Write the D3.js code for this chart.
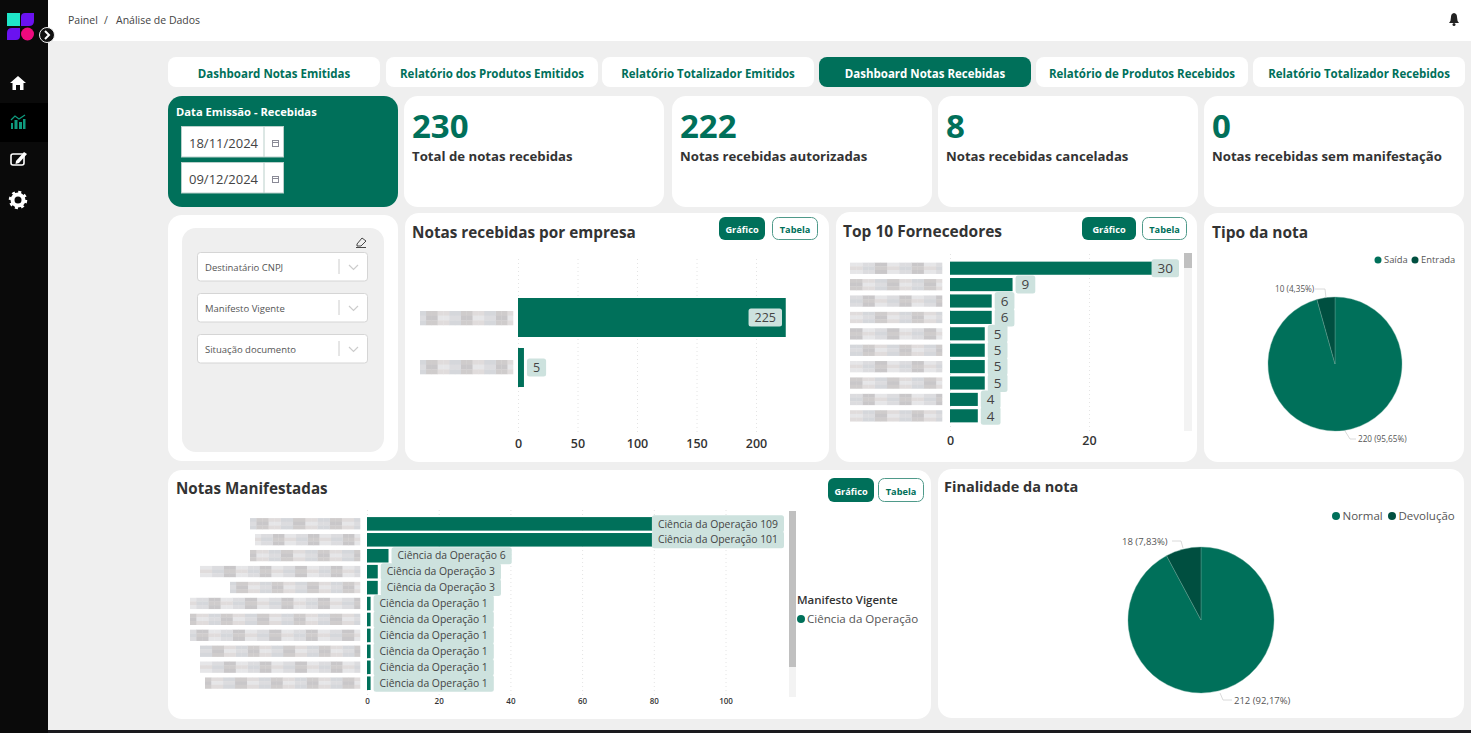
<!DOCTYPE html>
<html lang="pt-BR">
<head>
  <meta charset="UTF-8">
  <title>Análise de Dados</title>
  <script src="https://d3js.org/d3.v7.min.js"></script>
  <style>
    html, body { margin: 0; padding: 0; background: #efefef; overflow: hidden; }
    svg { display: block; }
    text { font-family: "Open Sans", sans-serif; }
    .tick text { font-family: "Open Sans", sans-serif; }
    .domain { display: none; }
  </style>
</head>
<body>
  <svg id="page" width="1471" height="733">
    <defs><filter id="soft" x="-5%" y="-20%" width="110%" height="140%"><feGaussianBlur stdDeviation="0.7"></feGaussianBlur></filter></defs>
  </svg>
  <script>
    // Data
    const tabLabels = ['Dashboard Notas Emitidas', 'Relatório dos Produtos Emitidos', 'Relatório Totalizador Emitidos',
      'Dashboard Notas Recebidas', 'Relatório de Produtos Recebidos', 'Relatório Totalizador Recebidos']
    const activeTab = 3

    const kpiValues = [230, 222, 8, 0]
    const kpiLabels = ['Total de notas recebidas', 'Notas recebidas autorizadas', 'Notas recebidas canceladas', 'Notas recebidas sem manifestação']

    const dateLabels = ['18/11/2024', '09/12/2024']
    const filterLabels = ['Destinatário CNPJ', 'Manifesto Vigente', 'Situação documento']

    const empresaValues = [225, 5]
    const empresaTicks = [0, 50, 100, 150, 200]

    const fornecedorValues = [30, 9, 6, 6, 5, 5, 5, 5, 4, 4]
    const fornecedorTicks = [0, 20]

    const manifestadasValues = [109, 101, 6, 3, 3, 1, 1, 1, 1, 1, 1]
    const manifestadasTicks = [0, 20, 40, 60, 80, 100]
    const manifestoLabel = 'Ciência da Operação'
    // width of the pixelated (hidden) company names
    const manifestadasNameWidths = [110, 105, 110, 160, 130, 170, 170, 170, 160, 160, 155]

    const tipoLabels = ['Saída', 'Entrada']
    const tipoValues = [220, 10]
    const tipoTexts = ['220 (95,65%)', '10 (4,35%)']

    const finalidadeLabels = ['Normal', 'Devolução']
    const finalidadeValues = [212, 18]
    const finalidadeTexts = ['212 (92,17%)', '18 (7,83%)']

    // Colors
    const green = '#00705a'
    const darkGreen = '#004f40'
    const badge = '#cde2de'
    const ink = '#333333'
    const blurTones = ['#dcdcdf', '#cfcccc', '#e6e6e8', '#d5d7db', '#c9c7c9', '#e0dcdc']

    const svg = d3.select('#page')

    function card(x, y, w, h, fill = '#fff', r = 14) {
      return svg.append('rect').attr('x', x).attr('y', y).attr('width', w).attr('height', h)
        .attr('rx', r).attr('fill', fill)
    }

    function label(parent, x, y, str, size, color = ink, weight = 400, anchor = 'start') {
      return parent.append('text').attr('x', x).attr('y', y).text(str)
        .attr('font-size', size).attr('fill', color).attr('font-weight', weight).attr('text-anchor', anchor)
    }

    // The names are pixelated in the screenshot, so they stay a mosaic of grey cells
    function mosaic(x, y, w, h, seed) {
      const cols = Math.round(w / 6), cellW = w / cols, cellH = h / 3
      const g = svg.append('g').attr('filter', 'url(#soft)')
      d3.range(3).forEach(row => {
        d3.range(cols).forEach(col => {
          g.append('rect').attr('x', x + w - (col + 1) * cellW).attr('y', y + row * cellH)
            .attr('width', cellW + .3).attr('height', cellH + .3)
            .attr('fill', blurTones[(col * 7 + row * 3 + seed * 5 + (col * col) % 4) % blurTones.length])
        })
      })
    }

    function toggle(xGraph, wGraph, xTable, wTable, y, h, size = 9.2) {
      svg.append('rect').attr('x', xGraph).attr('y', y).attr('width', wGraph).attr('height', h).attr('rx', 6).attr('fill', green)
      label(svg, xGraph + wGraph / 2, y + h / 2 + 4.5, 'Gráfico', size, '#fff', 700, 'middle')
      svg.append('rect').attr('x', xTable + .5).attr('y', y + .5).attr('width', wTable - 1).attr('height', h - 1).attr('rx', 6)
        .attr('fill', '#fff').attr('stroke', '#4f9a8a')
      label(svg, xTable + wTable / 2, y + h / 2 + 4.5, 'Tabela', size, green, 700, 'middle')
    }

    function scrollbar(x, w, y0, y1, thumbEnd) {
      svg.append('rect').attr('x', x).attr('y', y0).attr('width', w).attr('height', y1 - y0).attr('fill', '#f3f3f3')
      svg.append('rect').attr('x', x).attr('y', y0).attr('width', w).attr('height', thumbEnd - y0).attr('fill', '#c0c0c0')
    }

    // Horizontal bars with value badges
    function barChart(o) {
      const x = d3.scaleLinear().domain([0, o.tickStep]).range([o.x0, o.xStep])
      const y = d3.scaleBand().domain(d3.range(o.values.length)).range([o.yTop, o.yBottom])
        .paddingInner(o.padding).paddingOuter(o.padding / 2)

      const grid = svg.append('g').attr('transform', `translate(0,${o.gridBottom})`)
        .call(d3.axisBottom(x).tickValues(o.ticks).tickSize(o.gridTop - o.gridBottom).tickPadding(0).tickFormat(''))
      grid.selectAll('.tick line').attr('stroke', '#e4e4e4').attr('stroke-dasharray', '1 3')

      const axis = svg.append('g').attr('transform', `translate(0,${o.tickY})`)
        .call(d3.axisBottom(x).tickValues(o.ticks).tickSize(0).tickPadding(0))
      axis.selectAll('.tick text').attr('font-size', o.tickSize).attr('font-weight', 600).attr('fill', ink)

      svg.append('g').selectAll('rect').data(o.values).enter().append('rect')
        .attr('x', x(0)).attr('y', (d, i) => y(i))
        .attr('width', d => x(d) - x(0)).attr('height', y.bandwidth()).attr('fill', green)

      o.values.forEach((d, i) => {
        const g = svg.append('g')
        const t = label(g, 0, y(i) + y.bandwidth() / 2 + o.badgeSize * .35, o.badgeText(d), o.badgeSize, '#444', 400)
        const w = t.node().getComputedTextLength() + o.badgePad * 2
        const left = Math.min(x(d) + 3, o.badgeRight - w)
        t.attr('x', left + o.badgePad)
        g.insert('rect', 'text').attr('x', left).attr('y', y(i) + y.bandwidth() / 2 - o.badgeH / 2)
          .attr('width', w).attr('height', o.badgeH).attr('rx', 2.5).attr('fill', badge)
      })
      return y
    }

    // Pie with thin leader lines
    function pieChart(o) {
      const arcs = d3.pie().sort(null)(o.values)
      const arc = d3.arc().innerRadius(0).outerRadius(o.r)
      const g = svg.append('g').attr('transform', `translate(${o.cx},${o.cy})`)
      g.selectAll('path').data(arcs).enter().append('path')
        .attr('d', arc).attr('fill', (d, i) => [green, darkGreen][i])
        .attr('stroke', '#6da99b').attr('stroke-width', .4)
      o.leaders.forEach(l => {
        svg.append('path').attr('d', d3.line()(l)).attr('fill', 'none').attr('stroke', '#d0d0d0').attr('stroke-width', .8)
      })
      o.texts.forEach((t, i) => label(svg, o.textPos[i][0], o.textPos[i][1], t, o.textSize, '#555'))
      o.labels.forEach((t, i) => {
        svg.append('circle').attr('cx', o.legendX[i]).attr('cy', o.legendY).attr('r', o.legendR)
          .attr('fill', [green, darkGreen][i])
        label(svg, o.legendX[i] + o.legendR + 2.5, o.legendY + o.legendSize * .35, t, o.legendSize, '#555')
      })
    }

    // Page frame
    svg.append('rect').attr('width', 1471).attr('height', 733).attr('fill', '#efefef')
    svg.append('rect').attr('x', 48).attr('width', 1423).attr('height', 41).attr('fill', '#fff')
    svg.append('rect').attr('y', 730).attr('width', 1471).attr('height', 3).attr('fill', '#1a1a1e')
    svg.append('rect').attr('width', 48).attr('height', 733).attr('fill', '#0a0a0a')
    svg.append('rect').attr('y', 103).attr('width', 48).attr('height', 39).attr('fill', '#000')

    // Logo
    svg.append('rect').attr('x', 7).attr('y', 13).attr('width', 13).attr('height', 13).attr('fill', '#1fe5c8')
    svg.append('path').attr('d', 'M25 13H34V21Q34 26 29 26H21V17Q21 13 25 13Z').attr('fill', '#6a12f0')
    svg.append('path').attr('d', 'M12 28H20V36Q20 40 16 40H7V33Q7 28 12 28Z').attr('fill', '#6a12f0')
    svg.append('circle').attr('cx', 27.5).attr('cy', 34).attr('r', 6.5).attr('fill', '#ef0a7e')
    svg.append('circle').attr('cx', 47).attr('cy', 35).attr('r', 7.5).attr('fill', '#111').attr('stroke', '#eee').attr('stroke-width', 1)
    svg.append('path').attr('d', 'M45 31L49 35L45 39').attr('fill', 'none').attr('stroke', '#fff').attr('stroke-width', 2)

    // Sidebar icons
    svg.append('path').attr('d', 'M18 76L26 83H23.5V90H20V85H16V90H12.5V83H10Z').attr('fill', '#fff')
    svg.append('g').attr('fill', '#0f9a7e').selectAll('rect').data([[11, 123, 2, 6], [14.5, 120, 3, 9], [19, 122, 3, 7], [23, 119, 2.5, 10]])
      .enter().append('rect').attr('x', d => d[0]).attr('y', d => d[1]).attr('width', d => d[2]).attr('height', d => d[3])
    svg.append('path').attr('d', 'M11 120L15 116L19 119L25 115').attr('fill', 'none').attr('stroke', '#0f9a7e').attr('stroke-width', 1.3)
    svg.append('rect').attr('x', 11).attr('y', 154).attr('width', 13).attr('height', 11).attr('rx', 2).attr('fill', 'none').attr('stroke', '#fff').attr('stroke-width', 1.6)
    svg.append('path').attr('d', 'M16 161L24 152L27 154L19 163L15.5 164Z').attr('fill', '#fff')
    svg.append('circle').attr('cx', 18).attr('cy', 200).attr('r', 5.5).attr('fill', 'none').attr('stroke', '#fff').attr('stroke-width', 4)
    svg.append('circle').attr('cx', 18).attr('cy', 200).attr('r', 8).attr('fill', 'none').attr('stroke', '#fff').attr('stroke-width', 2.5).attr('stroke-dasharray', '3 3.28')

    // Header
    label(svg, 68, 24, 'Painel', 10.5, '#444')
    label(svg, 104, 24, '/', 10.5, '#444')
    label(svg, 116, 24, 'Análise de Dados', 10.5, '#444')
    svg.append('path').attr('d', 'M1449 23Q1451 21 1451 17Q1451 13.5 1454 13Q1457 13.5 1457 17Q1457 21 1459 23Z').attr('fill', '#222')
    svg.append('circle').attr('cx', 1454).attr('cy', 24.5).attr('r', 1.5).attr('fill', '#222')

    // Tabs
    const tabX = [168, 386, 602, 819, 1036, 1253]
    tabLabels.forEach((t, i) => {
      card(tabX[i], 57, 212, 30, i === activeTab ? green : '#fff', 8)
      label(svg, tabX[i] + 106, 78, t, 11.5, i === activeTab ? '#fff' : green, 700, 'middle')
    })

    // Date card
    card(168, 96, 230, 111, green)
    label(svg, 176, 116, 'Data Emissão - Recebidas', 11.2, '#fff', 700)
    dateLabels.forEach((d, i) => {
      const y = 127 + i * 36
      svg.append('rect').attr('x', 181.5).attr('y', y - .5).attr('width', 102).attr('height', 30.5).attr('fill', '#fff').attr('stroke', '#b9cfca')
      svg.append('line').attr('x1', 264).attr('x2', 264).attr('y1', y).attr('y2', y + 30).attr('stroke', '#b9cfca')
      label(svg, 189, y + 21, d, 13, '#444')
      svg.append('rect').attr('x', 272.5).attr('y', y + 13.5).attr('width', 6).attr('height', 6).attr('fill', 'none').attr('stroke', '#8a8a96')
      svg.append('line').attr('x1', 272.5).attr('x2', 278.5).attr('y1', y + 15.5).attr('y2', y + 15.5).attr('stroke', '#8a8a96')
    })

    // KPI cards
    const kpiX = [404, 672, 938, 1204]
    kpiValues.forEach((v, i) => {
      card(kpiX[i], 96, 260, 111)
      label(svg, kpiX[i] + 8, 138, v, 33, green, 700)
      label(svg, kpiX[i] + 8, 161, kpiLabels[i], 13.2, ink, 700)
    })

    // Filters
    card(168, 215, 230, 246)
    card(182, 228, 202, 224, '#efefef', 14)
    svg.append('path').attr('d', 'M357 244L362 238L366 241L361 246H357ZM356 247.5H366').attr('fill', 'none').attr('stroke', '#333').attr('stroke-width', .9)
    const filterY = [252, 293, 334]
    filterLabels.forEach((f, i) => {
      svg.append('rect').attr('x', 197.5).attr('y', filterY[i] + .5).attr('width', 170).attr('height', 28.5).attr('rx', 3).attr('fill', '#fff').attr('stroke', '#d5d5d5')
      svg.append('line').attr('x1', 339).attr('x2', 339).attr('y1', filterY[i] + 7).attr('y2', filterY[i] + 22).attr('stroke', '#ccc')
      svg.append('path').attr('d', `M349 ${filterY[i] + 13}L353.5 ${filterY[i] + 17.5}L358 ${filterY[i] + 13}`).attr('fill', 'none').attr('stroke', '#ccc').attr('stroke-width', 1.2)
      label(svg, 205, filterY[i] + 19, f, 9.5, '#555')
    })

    // Notas recebidas por empresa
    card(405, 213, 424, 249)
    label(svg, 412, 238, 'Notas recebidas por empresa', 15.3, ink, 700)
    toggle(719, 46, 772, 46, 217, 23)
    barChart({
      values: empresaValues, ticks: empresaTicks, tickStep: 50, x0: 518, xStep: 577.5,
      yTop: 292.5, yBottom: 392.5, padding: .22, gridTop: 256, gridBottom: 432, tickY: 439, tickSize: 12.5,
      badgeText: d => d, badgeSize: 12.5, badgePad: 6, badgeH: 18, badgeRight: 782
    })
    mosaic(420, 311, 93, 14, 1)
    mosaic(420, 360, 93, 14, 1)

    // Top 10 Fornecedores
    card(836, 212, 361, 250)
    label(svg, 843, 237, 'Top 10 Fornecedores', 15.5, ink, 700)
    toggle(1082, 54, 1142, 45, 217, 23)
    const yForn = barChart({
      values: fornecedorValues, ticks: fornecedorTicks, tickStep: 20, x0: 950, xStep: 1089,
      yTop: 260, yBottom: 424, padding: .2, gridTop: 254, gridBottom: 431, tickY: 436, tickSize: 12.5,
      badgeText: d => d, badgeSize: 13.5, badgePad: 6, badgeH: 18, badgeRight: 1179
    })
    fornecedorValues.forEach((d, i) => mosaic(850, yForn(i) + 1, 92, 11, i))
    scrollbar(1184, 8, 253, 431, 268)

    // Tipo da nota
    card(1204, 213, 260, 249)
    label(svg, 1212, 238, 'Tipo da nota', 15.5, ink, 700)
    pieChart({
      values: tipoValues, labels: tipoLabels, texts: tipoTexts, cx: 1335, cy: 364, r: 67,
      textPos: [[1358, 442], [1275, 292]], textSize: 8.2,
      leaders: [[[1345, 431], [1350, 439], [1356, 439]], [[1315, 289], [1325, 289], [1326, 298]]],
      legendX: [1378, 1415], legendY: 260, legendR: 3.5, legendSize: 9.4
    })

    // Notas Manifestadas
    card(168, 470, 763, 249)
    label(svg, 176, 494, 'Notas Manifestadas', 15.2, ink, 700)
    toggle(828, 46, 878, 46, 478, 24)
    const yMan = barChart({
      values: manifestadasValues, ticks: manifestadasTicks, tickStep: 20, x0: 367, xStep: 438.7,
      yTop: 515.9, yBottom: 691.2, padding: .15, gridTop: 510, gridBottom: 695, tickY: 698, tickSize: 8,
      badgeText: d => `${manifestoLabel} ${d}`, badgeSize: 10.4, badgePad: 6, badgeH: 17, badgeRight: 784
    })
    manifestadasNameWidths.forEach((w, i) => mosaic(360 - w, yMan(i) + 1, w, 11, i + 3))
    scrollbar(789, 7, 511, 697, 667)
    label(svg, 797, 604, 'Manifesto Vigente', 11.5, ink, 600)
    svg.append('circle').attr('cx', 801).attr('cy', 619).attr('r', 4).attr('fill', green)
    label(svg, 807, 623, manifestoLabel, 11.6, '#555')

    // Finalidade da nota
    card(938, 469, 526, 249)
    label(svg, 944, 492, 'Finalidade da nota', 14.5, ink, 700)
    pieChart({
      values: finalidadeValues, labels: finalidadeLabels, texts: finalidadeTexts, cx: 1201, cy: 620, r: 73,
      textPos: [[1234, 704], [1122, 545]], textSize: 9.5,
      leaders: [[[1220, 693], [1223, 700], [1232, 700]], [[1172, 541], [1181, 541], [1183, 548]]],
      legendX: [1336, 1392], legendY: 516, legendR: 4, legendSize: 11.5
    })
  </script>
</body>
</html>
